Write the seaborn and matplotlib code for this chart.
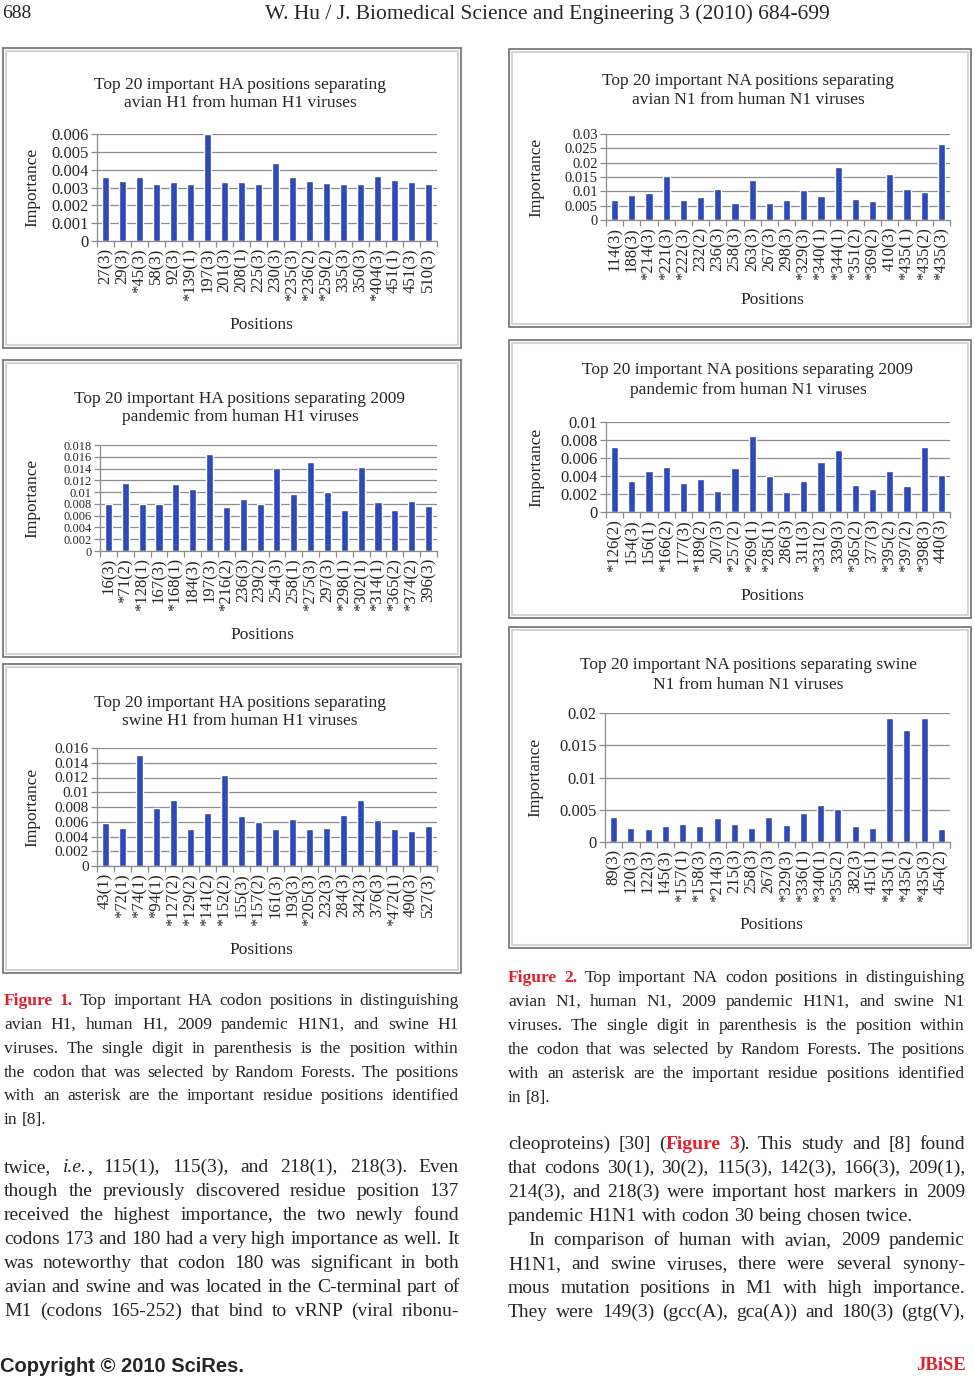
"""
Journal page with six Random Forests importance bar charts (HA / NA codon positions)
"""

import numpy as np
import pandas as pd
import matplotlib
matplotlib.use('Agg')
import matplotlib.pyplot as plt
from matplotlib.patches import Rectangle
from matplotlib.ticker import MultipleLocator, FuncFormatter
from matplotlib.transforms import Bbox
import seaborn as sns

# ---------------- data ----------------
avian_h1_pos = ['27(3)', '29(3)', '*45(3)', '58(3)', '92(3)', '*139(1)', '197(3)', '201(3)',
                '208(1)', '225(3)', '230(3)', '*235(3)', '*236(2)', '*259(2)', '335(3)',
                '350(3)', '*404(3)', '451(1)', '451(3)', '510(3)']
avian_h1_imp = [0.0036, 0.00335, 0.0036, 0.0032, 0.0033, 0.0032, 0.0060, 0.0033, 0.0033, 0.0032,
                0.0044, 0.0036, 0.00335, 0.00325, 0.0032, 0.0032, 0.00367, 0.0034, 0.0033, 0.0032]

pdm_h1_pos = ['16(3)', '*71(2)', '*128(1)', '167(3)', '*168(1)', '184(3)', '197(3)', '*216(2)',
              '236(3)', '239(2)', '254(3)', '258(1)', '*275(3)', '297(3)', '*298(1)', '*302(1)',
              '*314(1)', '*365(2)', '*374(2)', '396(3)']
pdm_h1_imp = [0.0079, 0.0115, 0.0079, 0.0079, 0.0113, 0.0106, 0.0165, 0.0074, 0.0088, 0.0080,
              0.0141, 0.0096, 0.0151, 0.0101, 0.0069, 0.0143, 0.0083, 0.0069, 0.0085, 0.0076]

swine_h1_pos = ['43(1)', '*72(1)', '*74(1)', '*94(1)', '*127(2)', '*129(2)', '*141(2)', '*152(2)',
                '155(3)', '*157(2)', '161(3)', '193(3)', '*205(3)', '232(3)', '284(3)', '342(3)',
                '376(3)', '*472(1)', '490(3)', '527(3)']
swine_h1_imp = [0.0058, 0.0052, 0.0150, 0.0079, 0.0089, 0.0050, 0.0072, 0.0124, 0.0068, 0.0060,
                0.0050, 0.0064, 0.0050, 0.0051, 0.0069, 0.0090, 0.0062, 0.0050, 0.0047, 0.0054]

avian_n1_pos = ['114(3)', '188(3)', '*214(3)', '*221(3)', '*222(3)', '232(2)', '236(3)', '258(3)',
                '263(3)', '267(3)', '298(3)', '*329(3)', '*340(1)', '*344(1)', '*351(2)', '*369(2)',
                '410(3)', '*435(1)', '*435(2)', '*435(3)']
avian_n1_imp = [0.0069, 0.0087, 0.0095, 0.0155, 0.0069, 0.0080, 0.0108, 0.0060, 0.0139, 0.0060,
                0.0069, 0.0105, 0.0084, 0.0184, 0.0073, 0.0066, 0.0159, 0.0108, 0.0098, 0.0265]

pdm_n1_pos = ['*126(2)', '154(3)', '156(1)', '*166(2)', '177(3)', '*189(2)', '207(3)', '*257(2)',
              '*269(1)', '*285(1)', '286(3)', '311(3)', '*331(2)', '339(3)', '*365(2)', '377(3)',
              '*395(2)', '*397(2)', '*398(3)', '440(3)']
pdm_n1_imp = [0.0072, 0.0034, 0.0046, 0.0050, 0.0032, 0.0037, 0.0023, 0.0049, 0.0084, 0.0040,
              0.0022, 0.0034, 0.0055, 0.0069, 0.0030, 0.0025, 0.0045, 0.0029, 0.0072, 0.0041]

swine_n1_pos = ['89(3)', '120(3)', '122(3)', '145(3)', '*157(1)', '*158(3)', '*214(3)', '215(3)',
                '258(3)', '267(3)', '*329(3)', '*336(1)', '*340(1)', '*355(2)', '382(3)', '415(1)',
                '*435(1)', '*435(2)', '*435(3)', '454(2)']
swine_n1_imp = [0.0038, 0.0022, 0.0020, 0.0025, 0.0028, 0.0025, 0.0037, 0.0028, 0.0022, 0.0038,
                0.0026, 0.0045, 0.0058, 0.0051, 0.0025, 0.0022, 0.0193, 0.0173, 0.0192, 0.0020]

caption_1 = [
    '#Figure 1.# Top important HA codon positions in distinguishing',
    'avian H1, human H1, 2009 pandemic H1N1, and swine H1',
    'viruses. The single digit in parenthesis is the position within',
    'the codon that was selected by Random Forests. The positions',
    'with an asterisk are the important residue positions identified',
    'in [8].',
]
caption_2 = [
    '#Figure 2.# Top important NA codon positions in distinguishing',
    'avian N1, human N1, 2009 pandemic H1N1, and swine N1',
    'viruses. The single digit in parenthesis is the position within',
    'the codon that was selected by Random Forests. The positions',
    'with an asterisk are the important residue positions identified',
    'in [8].',
]
body_left = [
    'twice, _i.e._, 115(1), 115(3), and 218(1), 218(3). Even',
    'though the previously discovered residue position 137',
    'received the highest importance, the two newly found',
    'codons 173 and 180 had a very high importance as well. It',
    'was noteworthy that codon 180 was significant in both',
    'avian and swine and was located in the C-terminal part of',
    'M1 (codons 165-252) that bind to vRNP (viral ribonu-',
]
body_right = [
    'cleoproteins) [30] (#Figure# #3#). This study and [8] found',
    'that codons 30(1), 30(2), 115(3), 142(3), 166(3), 209(1),',
    '214(3), and 218(3) were important host markers in 2009',
    'pandemic H1N1 with codon 30 being chosen twice.',
    'In comparison of human with avian, 2009 pandemic',
    'H1N1, and swine viruses, there were several synony-',
    'mous mutation positions in M1 with high importance.',
    'They were 149(3) (gcc(A), gca(A)) and 180(3) (gtg(V),',
]

# ---------------- page setup ----------------
W, H = 975, 1385
BAR = '#2E4AB8'
GRID = '#8c8c8c'
RED = '#e3202e'

sns.set_theme(style='white')
plt.rcParams['font.family'] = ['Liberation Serif', 'DejaVu Serif']

fig = plt.figure(figsize=(W / 100, H / 100), dpi=100)


def fx(x):
    return x / W


def fy(y):
    return 1 - y / H


def put(x, y, s, **kw):
    return fig.text(fx(x), fy(y), s, **kw)


def draw_chart(frame, plot, pos, imp, title, title_y, ymax, step, xlab_y, ylab_x,
               ytick_size=12, clip_y=None):
    x0, y0, x1, y1 = frame
    fig.add_artist(Rectangle((fx(x0), fy(y1)), (x1 - x0) / W, (y1 - y0) / H,
                             transform=fig.transFigure, fill=False, ec='#7a7a7a', lw=1.3))
    fig.add_artist(Rectangle((fx(x0 + 3), fy(y1 - 3)), (x1 - x0 - 6) / W, (y1 - y0 - 6) / H,
                             transform=fig.transFigure, fill=False, ec='#d4d4d4', lw=1.5))

    px0, py0, px1, py1 = plot
    ax = fig.add_axes([fx(px0), fy(py1), (px1 - px0) / W, (py1 - py0) / H])
    df = pd.DataFrame({'Positions': pos, 'Importance': imp})
    sns.barplot(data=df, x='Positions', y='Importance', order=pos, color=BAR,
                saturation=1, width=0.42, ax=ax)

    ax.set_xlim(-0.5, len(pos) - 0.5)
    ax.set_ylim(0, ymax)
    ax.yaxis.set_major_locator(MultipleLocator(step))
    ax.yaxis.set_major_formatter(FuncFormatter(lambda v, _: f'{round(v, 6):g}'))
    ax.grid(axis='y', color=GRID, lw=0.9)
    ax.set_axisbelow(True)
    for side in ['top', 'right']:
        ax.spines[side].set_visible(False)
    for side in ['left', 'bottom']:
        ax.spines[side].set_color(GRID)
        ax.spines[side].set_linewidth(0.9)
    ax.set_xticks(np.arange(len(pos) + 1) - 0.5, minor=True)
    ax.tick_params(axis='y', length=4, width=0.9, color=GRID, labelsize=ytick_size, pad=2, left=True)
    ax.tick_params(axis='x', which='major', length=0, pad=5, labelsize=12, labelrotation=90)
    ax.tick_params(axis='x', which='minor', length=4, width=0.9, color=GRID, bottom=True)
    ax.set_xlabel('')
    ax.set_ylabel('')

    cx = (x0 + x1) / 2 + 8
    for line, ty in zip(title, title_y):
        t = put(cx, ty, line, ha='center', va='center', fontsize=12.5)
        if clip_y is not None:
            t.set_clip_box(Bbox.from_extents(0, H - clip_y, W, H))
            t.set_clip_on(True)
    put((px0 + px1) / 2 - 6, xlab_y, 'Positions', ha='center', va='center', fontsize=12.5)
    put(ylab_x, (py0 + py1) / 2, 'Importance', ha='center', va='center', rotation=90, fontsize=12.5)
    return ax


draw_chart((3, 48, 461, 348), (97, 134, 437, 241), avian_h1_pos, avian_h1_imp,
           ['Top 20 important HA positions separating', 'avian H1 from human H1 viruses'],
           [85, 103], 0.006, 0.001, 325, 32)
draw_chart((3, 360, 461, 657), (100, 445, 437, 551), pdm_h1_pos, pdm_h1_imp,
           ['Top 20 important HA positions separating 2009', 'pandemic from human H1 viruses'],
           [399, 417], 0.018, 0.002, 635, 32, ytick_size=9)
draw_chart((3, 664, 461, 973), (97, 748, 437, 866), swine_h1_pos, swine_h1_imp,
           ['Top 20 important HA positions separating', 'swine H1 from human H1 viruses'],
           [703, 721], 0.016, 0.002, 950, 32, ytick_size=11, clip_y=726)
draw_chart((509, 49, 971, 327), (606, 134, 950, 220), avian_n1_pos, avian_n1_imp,
           ['Top 20 important NA positions separating', 'avian N1 from human N1 viruses'],
           [81, 100], 0.03, 0.005, 300, 536, ytick_size=10.5)
draw_chart((509, 340, 971, 618), (606, 422, 950, 512), pdm_n1_pos, pdm_n1_imp,
           ['Top 20 important NA positions separating 2009', 'pandemic from human N1 viruses'],
           [370, 390], 0.01, 0.002, 596, 536)
draw_chart((509, 627, 971, 948), (605, 713, 950, 842), swine_n1_pos, swine_n1_imp,
           ['Top 20 important NA positions separating swine', 'N1 from human N1 viruses'],
           [665, 685], 0.02, 0.005, 925, 535)

# ---------------- running text ----------------
STYLES = {'n': {}, 'b': dict(color=RED, fontweight='bold'), 'i': dict(style='italic')}
renderer = fig.canvas.get_renderer()


def parse(line):
    tokens, cur, buf, style = [], [], '', 'n'
    for ch in line + ' ':
        if ch in '#_':
            if buf:
                cur.append((buf, style))
                buf = ''
            new = 'b' if ch == '#' else 'i'
            style = 'n' if style == new else new
        elif ch == ' ':
            if buf:
                cur.append((buf, style))
                buf = ''
            if cur:
                tokens.append(cur)
                cur = []
        else:
            buf += ch
    return tokens


def text_line(x0, x1, y, line, size, justify=True):
    arts = []
    for tok in parse(line):
        runs = []
        for txt, st in tok:
            t = put(x0, y, txt, fontsize=size, va='baseline', ha='left', **STYLES[st])
            runs.append((t, t.get_window_extent(renderer).width))
        arts.append(runs)
    total = sum(w for runs in arts for _, w in runs)
    gap = size * 100 / 72 * 0.25
    if justify and len(arts) > 1:
        gap = (x1 - x0 - total) / (len(arts) - 1)
    x = x0
    for runs in arts:
        for t, w in runs:
            t.set_x(fx(x))
            x += w
        x += gap


def paragraph(lines, x0, x1, baselines, size, last_free=(), indent=None):
    indent = indent or {}
    for i, (line, y) in enumerate(zip(lines, baselines)):
        text_line(x0 + indent.get(i, 0), x1, y, line, size, justify=i not in last_free)


paragraph(caption_1, 4, 459, [1005, 1029, 1053, 1077, 1100, 1124], 12.6, last_free=(5,))
paragraph(caption_2, 508, 965, [982, 1006, 1030, 1054, 1078, 1102], 12.6, last_free=(5,))
paragraph(body_left, 4, 459, [1172, 1196, 1220, 1244, 1268, 1292, 1316], 14)
paragraph(body_right, 508, 965, [1149, 1173, 1197, 1221, 1245, 1269, 1293, 1317], 14,
          last_free=(3,), indent={4: 20})

# header and footer
put(2, 14, '688', ha='left', va='center', fontsize=14)
put(547, 14, 'W. Hu / J. Biomedical Science and Engineering 3 (2010) 684-699',
    ha='center', va='center', fontsize=15.5)
put(0, 1366, 'Copyright \u00a9 2010 SciRes.', ha='left', va='center', fontsize=14.5,
    family=['Liberation Sans', 'DejaVu Sans'], fontweight='bold')
put(966, 1366, 'JBiSE', ha='right', va='center', fontsize=13.5, color=RED, fontweight='bold')

plt.savefig('out.png', dpi=100)
